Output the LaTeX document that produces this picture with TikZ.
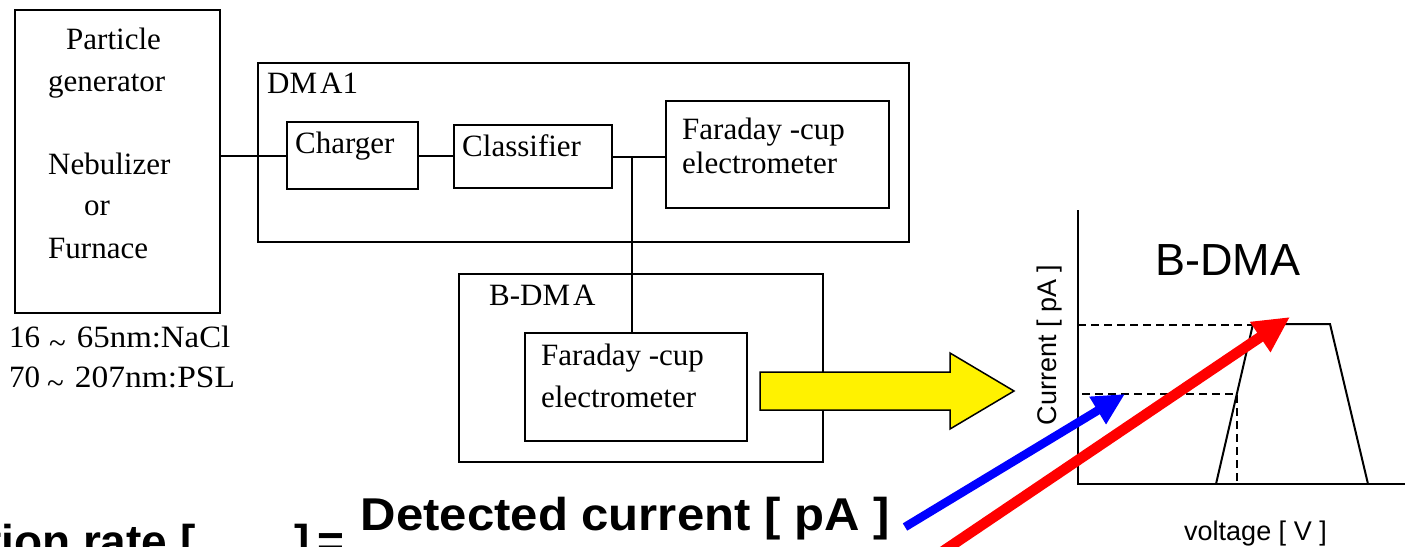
\documentclass[tikz,border=0pt]{standalone}
\usepackage{fontspec}
\setmainfont{Liberation Serif}
\newfontfamily\arial{Liberation Sans}
\usetikzlibrary{arrows.meta}
\begin{document}
\begin{tikzpicture}[x=1pt,y=-1pt,
  box/.style={draw, line width=2pt, inner sep=0pt, anchor=north west},
  lbl/.style={inner sep=0pt, anchor=base west, font=\fontsize{31}{35}\selectfont},
  wire/.style={line width=2pt},
  sanslbl/.style={inner sep=0pt, anchor=base west, font=\arial\fontsize{27}{30}\selectfont},
  biglbl/.style={inner sep=0pt, font=\arial\bfseries\fontsize{46}{50}\selectfont},
  dash line/.style={line width=1.5pt, dash pattern=on 8pt off 5pt}
  ]
\useasboundingbox (0,0) rectangle (1405,546);
% boxes
\node[box, minimum width=205pt, minimum height=303pt] (pg) at (14,9) {};
\node[box, minimum width=651pt, minimum height=179pt] (dma1) at (257,62) {};
\node[box, minimum width=131pt, minimum height=67pt] (ch) at (286,121) {};
\node[box, minimum width=158pt, minimum height=63pt] (cl) at (453,124) {};
\node[box, minimum width=223pt, minimum height=107pt] (fc1) at (665,100) {};
\node[box, minimum width=364pt, minimum height=188pt] (bdma) at (458,273) {};
\node[box, minimum width=222pt, minimum height=108pt] (fc2) at (524,332) {};
% texts
\node[lbl] (t1) at (66,49) {Particle};
\node[lbl] (t2) at (48,91) {generator};
\node[lbl] (t3) at (48,174) {Nebulizer};
\node[lbl] (t4) at (84,215) {or};
\node[lbl] (t5) at (48,258) {Furnace};
\node[lbl] (r1) at (9,347) {16\hspace{9pt}\raisebox{-6pt}{\textasciitilde}\hspace{11pt}\scalebox{1.06}[1]{65nm:NaCl}};
\node[lbl] (r2) at (9,387) {70\hspace{7pt}\raisebox{-6pt}{\textasciitilde}\hspace{11pt}\scalebox{1.08}[1]{207nm:PSL}};
\node[lbl] (dl) at (267,93) {DM\kern3pt A1};
\node[lbl] (chl) at (295,153) {Charger};
\node[lbl] (cll) at (462,156) {Classifier};
\node[lbl] (f1a) at (682,139) {Faraday -cup};
\node[lbl] (f1b) at (682,173) {electrometer};
\node[lbl] (bl) at (489,305) {B-DM\kern3pt A};
\node[lbl] (f2a) at (541,365) {Faraday -cup};
\node[lbl] (f2b) at (541,407) {electrometer};
% wires
\path (cl.east) ++(19,0) coordinate (j);
\draw[wire] (pg.east |- ch.west) -- (ch.west);
\draw[wire] (ch.east) -- (ch.east -| cl.west);
\draw[wire] (cl.east) -- (cl.east -| fc1.west);
\draw[wire] (j) -- (j |- fc2.north);
% yellow arrow
\draw[line width=1.5pt, fill=yellow] (760,372) -- (950,372) -- (950,353) -- (1014,391) -- (950,429) -- (950,410) -- (760,410) -- cycle;
% graph
\draw[line width=2pt] (1078,210) -- (1078,484) -- (1405,484);
\draw[line width=2pt] (1216,484) -- (1253,324) -- (1330,324) -- (1368,484);
\draw[dash line] (1078,325) -- (1253,325);
\draw[dash line] (1082,394) -- (1237,394) -- (1237,484);
\node[inner sep=0pt, anchor=base west, font=\arial\fontsize{45}{50}\selectfont] (gt) at (1155,275) {B-DMA};
\node[inner sep=0pt, rotate=90, font=\arial\fontsize{27}{30}\selectfont] (yl) at (1050,345) {Current [ pA ]};
\node[sanslbl] (xl) at (1184,540) {voltage [ V ]};
% formula text
\node[biglbl, anchor=base east] (det) at (890,530) {\scalebox{1.067}[1]{Detected current [ pA ]}};
\node[biglbl, anchor=base east] (rate) at (345,557) {Detection rate [\hspace{99pt}]\kern8pt=};
% arrows
\coordinate (bs) at (905,527);
\coordinate (bt) at (1125,394);
\coordinate (rs) at (930,560);
\coordinate (rt) at (1290,317);
\draw[blue, line width=8.5pt, -{Triangle[length=32pt,width=30pt]}] (bs) -- (bt);
\draw[red, line width=10.5pt, -{Triangle[length=36pt,width=34pt]}] (rs) -- (rt);
\end{tikzpicture}
\end{document}
